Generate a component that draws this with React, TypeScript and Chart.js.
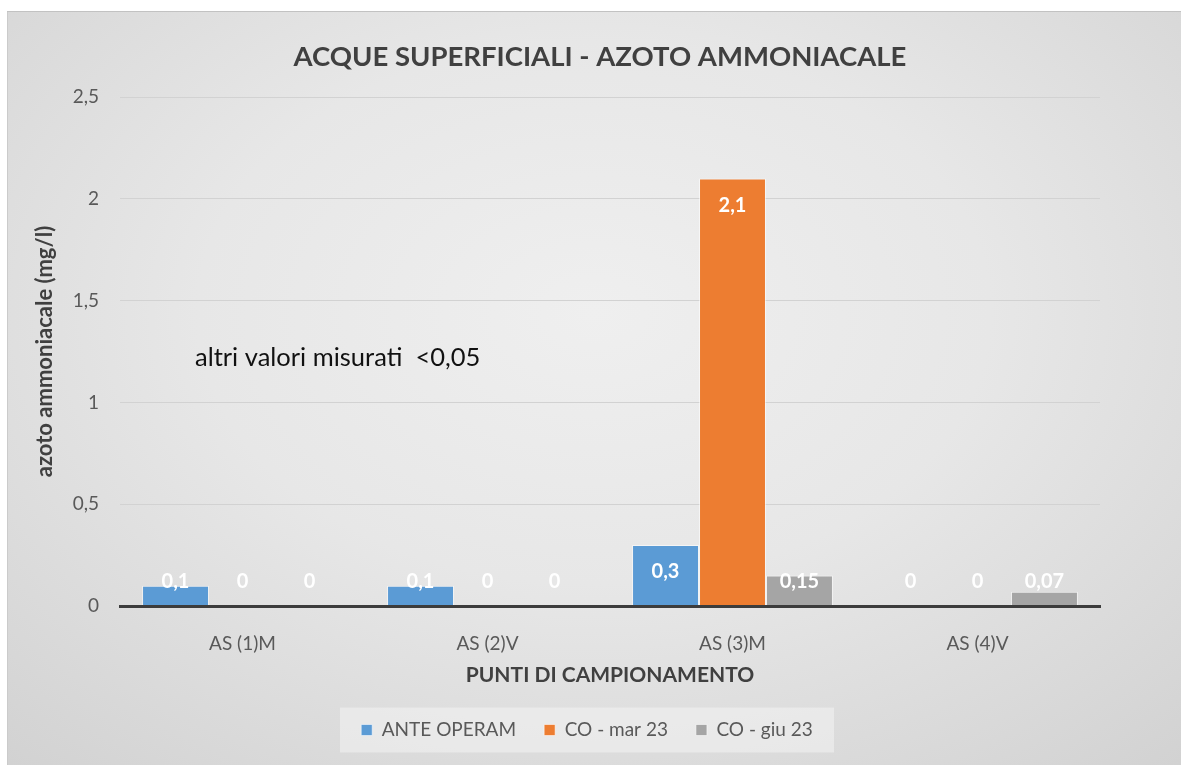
import React, { useEffect, useRef } from "react";
import { Chart, registerables } from "chart.js";

Chart.register(...registerables);

// ---- data ----
const categories = ["AS (1)M", "AS (2)V", "AS (3)M", "AS (4)V"];
const seriesNames = ["ANTE OPERAM", "CO - mar 23", "CO - giu 23"];
const anteOperam = [0.1, 0.1, 0.3, 0];
const coMar23 = [0, 0, 2.1, 0];
const coGiu23 = [0, 0, 0.15, 0.07];
const yTicks = [0, 0.5, 1, 1.5, 2, 2.5];
const seriesColors = ["#5b9bd5", "#ed7d31", "#a5a5a5"];
const titleText = "ACQUE SUPERFICIALI - AZOTO AMMONIACALE";
const yTitle = "azoto ammoniacale (mg/l)";
const xTitle = "PUNTI DI CAMPIONAMENTO";
const noteText = "altri valori misurati  <0,05";
const noteValue = 1.22;

const FONT = "Lato, 'Open Sans', 'DejaVu Sans', sans-serif";
const W = 1174;
const H = 754;

const fmt = (v: number) => String(v).replace(".", ",");

const customPlugin = {
  id: "customDecor",
  afterLayout(chart: any) {
    const t = chart.titleBlock;
    if (t) {
      const d = 593 - (t.left + t.right) / 2;
      t.left += d;
      t.right += d;
    }
    const l = chart.legend;
    if (l) {
      const d = 580 - (l.left + l.right) / 2;
      l.left += d;
      l.right += d;
    }
  },
  beforeDraw(chart: any) {
    const l = chart.legend;
    if (!l) return;
    const ctx = chart.ctx;
    const pad = l.options.labels.padding;
    const size = l.options.labels.font.size;
    const cy = l.top + pad + size / 2;
    const cx = (l.left + l.right) / 2;
    ctx.save();
    ctx.fillStyle = "rgba(246,246,246,0.5)";
    ctx.fillRect(cx - 247, cy - 22.5, 494, 45);
    ctx.restore();
  },
  afterDatasetsDraw(chart: any) {
    const ctx = chart.ctx;
    ctx.save();
    ctx.font = `bold 20px ${FONT}`;
    ctx.fillStyle = "#ffffff";
    ctx.textAlign = "center";
    ctx.textBaseline = "middle";
    chart.data.datasets.forEach((ds: any, di: number) => {
      const meta = chart.getDatasetMeta(di);
      meta.data.forEach((el: any, i: number) => {
        const v = ds.data[i];
        const y = Math.min(el.y + 27, el.base - 24);
        ctx.fillText(fmt(v), el.x, y);
      });
    });
    // annotation note
    const area = chart.chartArea;
    const yScale = chart.scales.y;
    ctx.font = `25.5px ${FONT}`;
    ctx.fillStyle = "#111111";
    ctx.textAlign = "left";
    ctx.fillText(noteText, area.left + 75, yScale.getPixelForValue(noteValue));
    ctx.restore();
  },
};

export default function App() {
  const ref = useRef<HTMLCanvasElement | null>(null);

  useEffect(() => {
    if (!ref.current) return;
    const seriesData = [anteOperam, coMar23, coGiu23];
    const chart = new Chart(ref.current, {
      type: "bar",
      data: {
        labels: categories,
        datasets: seriesNames.map((name, i) => ({
          label: name,
          data: seriesData[i],
          backgroundColor: seriesColors[i],
          borderColor: "rgba(255,255,255,0.55)",
          borderWidth: 1,
          borderSkipped: "start",
          categoryPercentage: 0.82,
          barPercentage: 1.0,
        })),
      },
      options: {
        responsive: false,
        animation: false,
        devicePixelRatio: 1,
        layout: { padding: { left: 0, right: 81, top: 0, bottom: 15.5 } },
        plugins: {
          tooltip: { enabled: false },
          title: {
            display: true,
            text: titleText,
            color: "#404040",
            font: { family: FONT, size: 27.5, weight: "bold" },
            padding: { top: 29.5, bottom: 23.5 },
          },
          legend: {
            display: true,
            position: "bottom",
            labels: {
              color: "#595959",
              font: { family: FONT, size: 19 },
              boxWidth: 11,
              boxHeight: 11,
              padding: 28,
            },
          },
        },
        scales: {
          x: {
            grid: { display: false, drawTicks: false },
            border: { display: true, color: "#3c3c3c", width: 3, z: 1 },
            ticks: {
              color: "#595959",
              font: { family: FONT, size: 19 },
              padding: 26,
            },
            title: {
              display: true,
              text: xTitle,
              color: "#404040",
              font: { family: FONT, size: 21, weight: "bold" },
              padding: { top: 0, bottom: 4.9 },
            },
            afterFit(scale: any) {
              scale.height = 86.5;
            },
          },
          y: {
            min: 0,
            max: 2.5,
            grid: { color: "#d2d2d2", lineWidth: 1, drawTicks: false },
            border: { display: false },
            ticks: {
              color: "#595959",
              font: { family: FONT, size: 19 },
              padding: 21,
              callback: (v: any) => fmt(Number(v)),
            },
            afterBuildTicks(scale: any) {
              scale.ticks = yTicks.map((v) => ({ value: v }));
            },
            title: {
              display: true,
              text: yTitle,
              color: "#404040",
              font: { family: FONT, size: 22, weight: "bold" },
              padding: { top: 24.8, bottom: 0 },
            },
            afterFit(scale: any) {
              scale.width = 113;
            },
          },
        },
      },
      plugins: [customPlugin],
    });
    return () => chart.destroy();
  }, []);

  return (
    <div
      style={{
        position: "absolute",
        left: 7,
        top: 11,
        width: W,
        height: H,
        background:
          "radial-gradient(ellipse 75% 80% at 50% 40%, #efefef 0%, #e7e7e7 45%, #d2d2d2 100%)",
        boxShadow: "inset 0 1px 0 #c2c2c2, inset 1px 0 0 #cbcbcb",
      }}
    >
      <canvas ref={ref} width={W} height={H} style={{ display: "block" }} />
    </div>
  );
}
